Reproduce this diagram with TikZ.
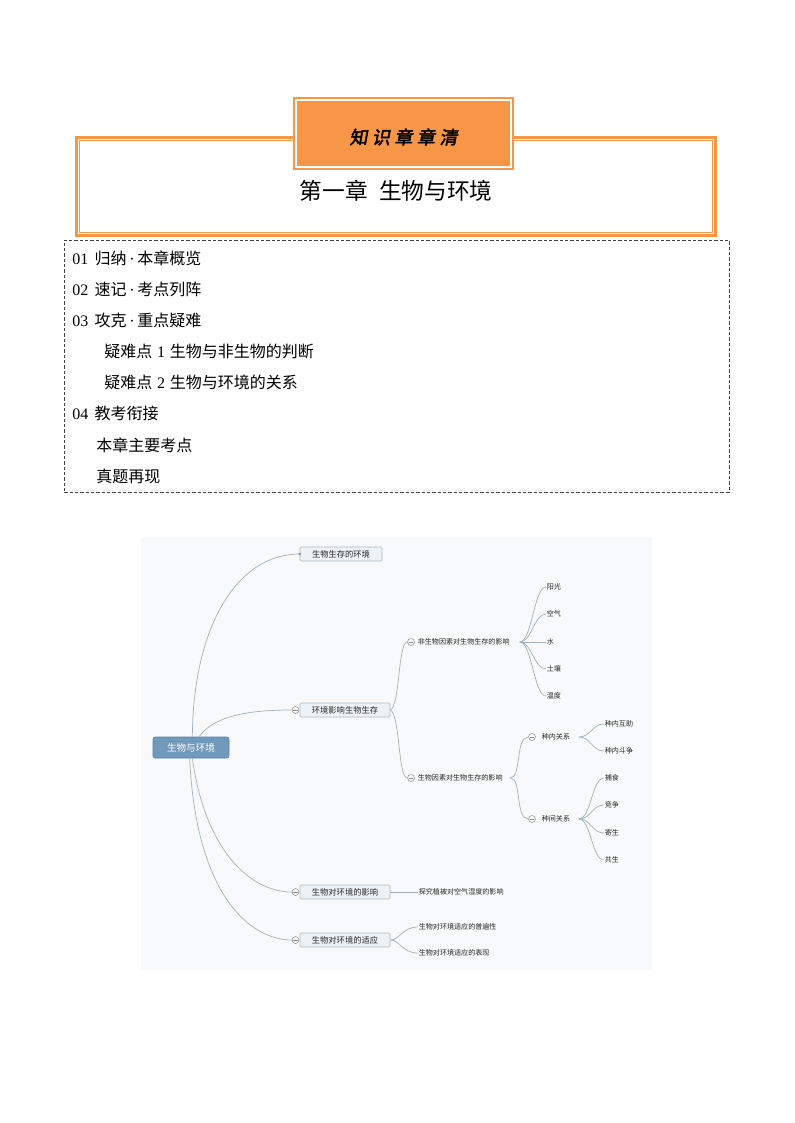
\documentclass[tikz,border=0pt]{standalone}
\usepackage{fontspec}
\setmainfont{Noto Sans CJK SC}
\newfontfamily\cjkcal{Noto Sans CJK SC}[FakeBold=2.5,FakeSlant=0.18,LetterSpace=25]
\newfontfamily\digf{Liberation Serif}
\definecolor{org}{HTML}{F79646}
\definecolor{boxline}{HTML}{A9BCCB}
\definecolor{boxfill}{HTML}{EDF2F6}
\definecolor{rootfill}{HTML}{7099BC}
\definecolor{edgecol}{HTML}{9FB5C6}
\definecolor{collgray}{HTML}{8A8A8A}
\definecolor{mmbg}{HTML}{F8F9FA}
\newcommand{\mydot}{{\digf\,·\,}}
\tikzset{
  listtxt/.style={anchor=west, inner sep=0pt, font=\fontsize{12}{13}\selectfont},
  mm/.style={anchor=west, inner sep=0.4pt, font=\fontsize{5.3}{6}\selectfont, text=black!85},
  mmbox/.style={draw=boxline, fill=boxfill, line width=0.5pt, minimum height=10.5pt, minimum width=67.5pt, inner sep=0pt, rounded corners=1pt, font=\fontsize{6.2}{7}\selectfont, text=black!85},
  coll/.style={circle, draw=collgray, fill=white, minimum size=5.2pt, inner sep=0pt, line width=0.4pt,
    path picture={\draw[collgray, line width=0.4pt] ([xshift=-1.6pt]path picture bounding box.center) -- ([xshift=1.6pt]path picture bounding box.center);}},
  link/.style={draw=edgecol, line width=0.55pt}
}
\begin{document}
\begin{tikzpicture}[x=0.75pt,y=-0.75pt]
\useasboundingbox (0,0) rectangle (794,1123);

% ---------- header ----------
\node[draw=org, line width=2.3pt, minimum width=479pt, minimum height=73.5pt, inner sep=0pt] (mainbox) at (396,186.5) {};
\draw[org, line width=0.7pt] ([shift={(3.6pt,-3.6pt)}]mainbox.north west) rectangle ([shift={(-3.6pt,3.6pt)}]mainbox.south east);
\node[fill=org, minimum width=166pt, minimum height=55pt, inner sep=0pt] (topbox) at (403.5,133.5) {};
\draw[white, line width=1.2pt] ([shift={(2.6pt,-2.6pt)}]topbox.north west) rectangle ([shift={(-2.6pt,2.6pt)}]topbox.south east);
\node[font=\cjkcal\fontsize{13.5}{14}\selectfont] (toptxt) at (403.5,137) {知识章章清};
\node[font=\fontsize{17}{19}\selectfont] (title) at (396,191) {第一章\hspace{0.5em}生物与环境};

% ---------- contents ----------
\node[draw=black!75, dashed, dash pattern=on 2.5pt off 1.5pt, line width=0.5pt, minimum width=498.5pt, minimum height=189pt, inner sep=0pt] (toc) at (396.5,366) {};
\node[listtxt] (l1) at (72,258) {{\digf 01}\hspace{0.4em}归纳\mydot 本章概览};
\node[listtxt] (l2) at (72,289) {{\digf 02}\hspace{0.4em}速记\mydot 考点列阵};
\node[listtxt] (l3) at (72,320) {{\digf 03}\hspace{0.4em}攻克\mydot 重点疑难};
\node[listtxt] (l4) at (104,351) {疑难点\hspace{0.3em}{\digf 1}\hspace{0.3em}生物与非生物的判断};
\node[listtxt] (l5) at (104,382) {疑难点\hspace{0.3em}{\digf 2}\hspace{0.3em}生物与环境的关系};
\node[listtxt] (l6) at (72,413) {{\digf 04}\hspace{0.4em}教考衔接};
\node[listtxt] (l7) at (96,445) {本章主要考点};
\node[listtxt] (l8) at (96,476) {真题再现};

% ---------- mind map ----------
\fill[mmbg] (141,537) rectangle (652,970);

\node[fill=rootfill, draw=rootfill!85!black, line width=0.4pt, rounded corners=1.5pt, minimum width=57pt, minimum height=15.75pt, inner sep=0pt, text=white, font=\fontsize{7.2}{8}\selectfont] (root) at (191,747.5) {生物与环境};

\node[mmbox, minimum width=61.5pt] (b1) at (341,554) {生物生存的环境};
\node[mmbox] (b2) at (345,710) {环境影响生物生存};
\node[mmbox] (b3) at (345,892) {生物对环境的影响};
\node[mmbox] (b4) at (345,940) {生物对环境的适应};

\node[coll] (c2) at (295.5,710) {};
\node[coll] (c3) at (295.5,892) {};
\node[coll] (c4) at (295.5,940) {};

\draw[link] ([xshift=1pt]root.north) .. controls (193,630) and (235,554) .. (b1.west);
\fill[edgecol!80!black] (b1.west) circle (1.4);
\draw[link] ([xshift=6pt]root.north) .. controls (215,714) and (255,710) .. (c2.west);
\draw[link] ([xshift=1pt]root.south) .. controls (205,850) and (250,892) .. (c3.west);
\draw[link] ([xshift=-1pt]root.south) .. controls (196,895) and (250,940) .. (c4.west);

% level 2
\node[coll] (n1c) at (411,642) {};
\node[mm] (n1) at (417,642) {非生物因素对生物生存的影响};
\node[coll] (n2c) at (411,778) {};
\node[mm] (n2) at (417,778) {生物因素对生物生存的影响};

\draw[link] (b2.east) .. controls (400,706) and (398,642) .. (n1c.west);
\draw[link] (b2.east) .. controls (400,714) and (398,778) .. (n2c.west);

% abiotic leaves
\coordinate (p1) at ([xshift=7pt]n1.east);
\node[mm] (a1) at (546,587) {阳光};
\node[mm] (a2) at (546,614) {空气};
\node[mm] (a3) at (546,642) {水};
\node[mm] (a4) at (546,669) {土壤};
\node[mm] (a5) at (546,696) {温度};
\foreach \t in {a1,a2,a4,a5}{
  \draw[link] (p1) .. controls ([xshift=9pt]p1) and ([xshift=-9pt]\t.west) .. (\t.west);
}
\draw[link] (p1) -- (a3.west);

% biotic
\coordinate (p2) at ([xshift=5pt]n2.east);
\node[coll] (s1c) at (532,737) {};
\node[mm] (s1) at (541,737) {种内关系};
\node[coll] (s2c) at (532,819) {};
\node[mm] (s2) at (541,819) {种间关系};
\draw[link] (p2) .. controls ([xshift=9pt]p2) and ([xshift=-10pt]s1c.west) .. (s1c.west);
\draw[link] (p2) .. controls ([xshift=9pt]p2) and ([xshift=-10pt]s2c.west) .. (s2c.west);

\coordinate (p3) at ([xshift=6pt]s1.east);
\node[mm] (d1) at (604,724) {种内互助};
\node[mm] (d2) at (604,751) {种内斗争};
\foreach \t in {d1,d2}{
  \draw[link] (p3) .. controls ([xshift=9pt]p3) and ([xshift=-9pt]\t.west) .. (\t.west);
}
\coordinate (p4) at ([xshift=6pt]s2.east);
\node[mm] (e1) at (604,778) {捕食};
\node[mm] (e2) at (604,805) {竞争};
\node[mm] (e3) at (604,833) {寄生};
\node[mm] (e4) at (604,860) {共生};
\foreach \t in {e1,e2,e3,e4}{
  \draw[link] (p4) .. controls ([xshift=9pt]p4) and ([xshift=-9pt]\t.west) .. (\t.west);
}

% lower branches
\node[mm] (f1) at (418,892) {探究植被对空气湿度的影响};
\draw[link] (b3.east) -- (f1.west);
\node[mm] (g1) at (418,927) {生物对环境适应的普遍性};
\node[mm] (g2) at (418,953) {生物对环境适应的表现};
\draw[link] (b4.east) .. controls (400,940) and (402,927) .. (g1.west);
\draw[link] (b4.east) .. controls (400,940) and (402,953) .. (g2.west);
\end{tikzpicture}
\end{document}
